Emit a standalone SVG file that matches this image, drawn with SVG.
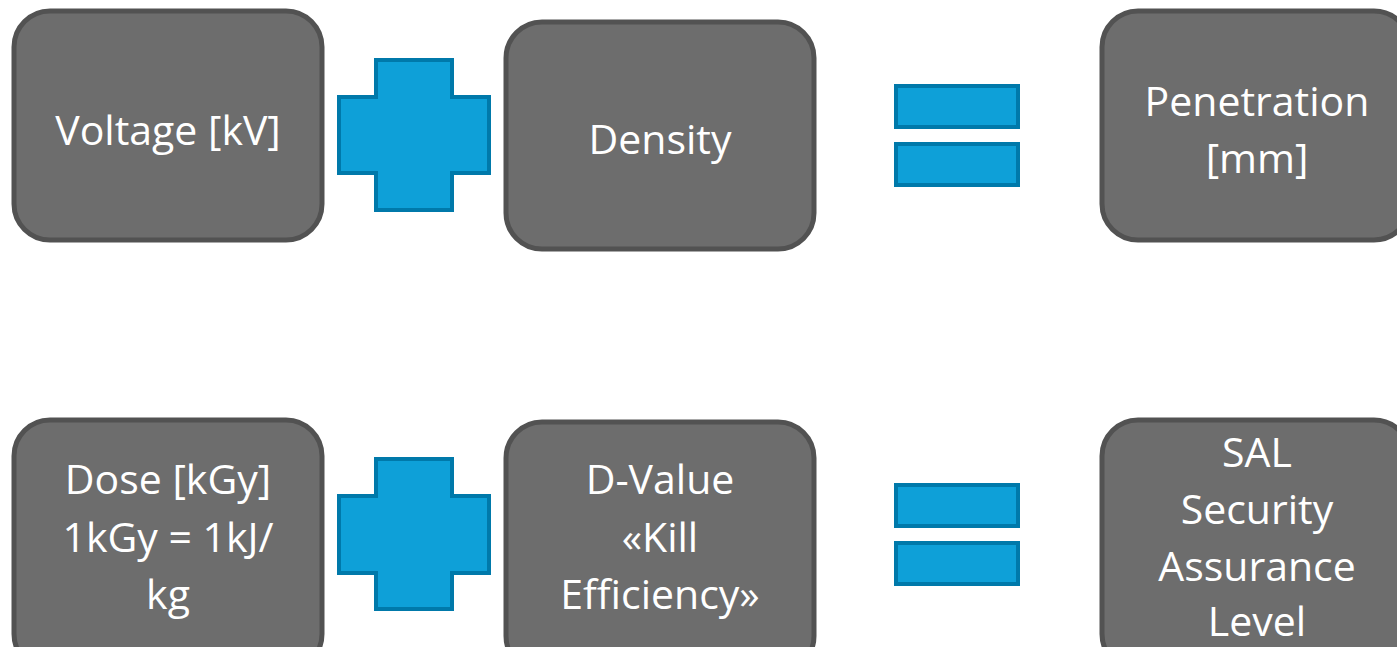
<svg xmlns="http://www.w3.org/2000/svg" width="1397" height="647" viewBox="0 0 1397 647">
<style>
.box{fill:#6d6d6d;stroke:#525252;stroke-width:5}
.op{fill:#0ea0d8;stroke:#0079aa;stroke-width:4}
.t{font-family:"Open Sans","Liberation Sans",sans-serif;font-size:41px;fill:#ffffff;text-anchor:middle}
</style>
<rect width="1397" height="647" fill="#ffffff"/>
<g id="voltage"><rect class="box" x="14" y="11" width="308" height="229" rx="36"/><text class="t" x="168" y="145">Voltage [kV]</text></g>
<g id="plus1"><path class="op" d="M376 60H452V97H489V173H452V210H376V173H339V97H376Z"/></g>
<g id="density"><rect class="box" x="506" y="22" width="308" height="227" rx="36"/><text class="t" x="660" y="154">Density</text></g>
<g id="equals1"><rect class="op" x="896" y="86" width="122" height="41"/><rect class="op" x="896" y="144" width="122" height="41"/></g>
<g id="penetration"><rect class="box" x="1102" y="11" width="308" height="229" rx="36"/><text class="t" x="1257" y="116">Penetration</text><text class="t" x="1257" y="173">[mm]</text></g>
<g id="dose"><rect class="box" x="14" y="420" width="308" height="250" rx="36"/><text class="t" x="168" y="494">Dose [kGy]</text><text class="t" x="168" y="552">1kGy = 1kJ/</text><text class="t" x="168" y="609">kg</text></g>
<g id="plus2"><path class="op" d="M376 459H452V496H489V573H452V609H376V573H339V496H376Z"/></g>
<g id="dvalue"><rect class="box" x="506" y="422" width="308" height="250" rx="36"/><text class="t" x="660" y="494">D-Value</text><text class="t" x="660" y="552">«Kill</text><text class="t" x="660" y="609">Efficiency»</text></g>
<g id="equals2"><rect class="op" x="896" y="485" width="122" height="41"/><rect class="op" x="896" y="543" width="122" height="41"/></g>
<g id="sal"><rect class="box" x="1102" y="420" width="308" height="250" rx="36"/><text class="t" x="1257" y="467">SAL</text><text class="t" x="1257" y="524">Security</text><text class="t" x="1257" y="581">Assurance</text><text class="t" x="1257" y="636">Level</text></g>
<g id="connectors"></g>
</svg>
